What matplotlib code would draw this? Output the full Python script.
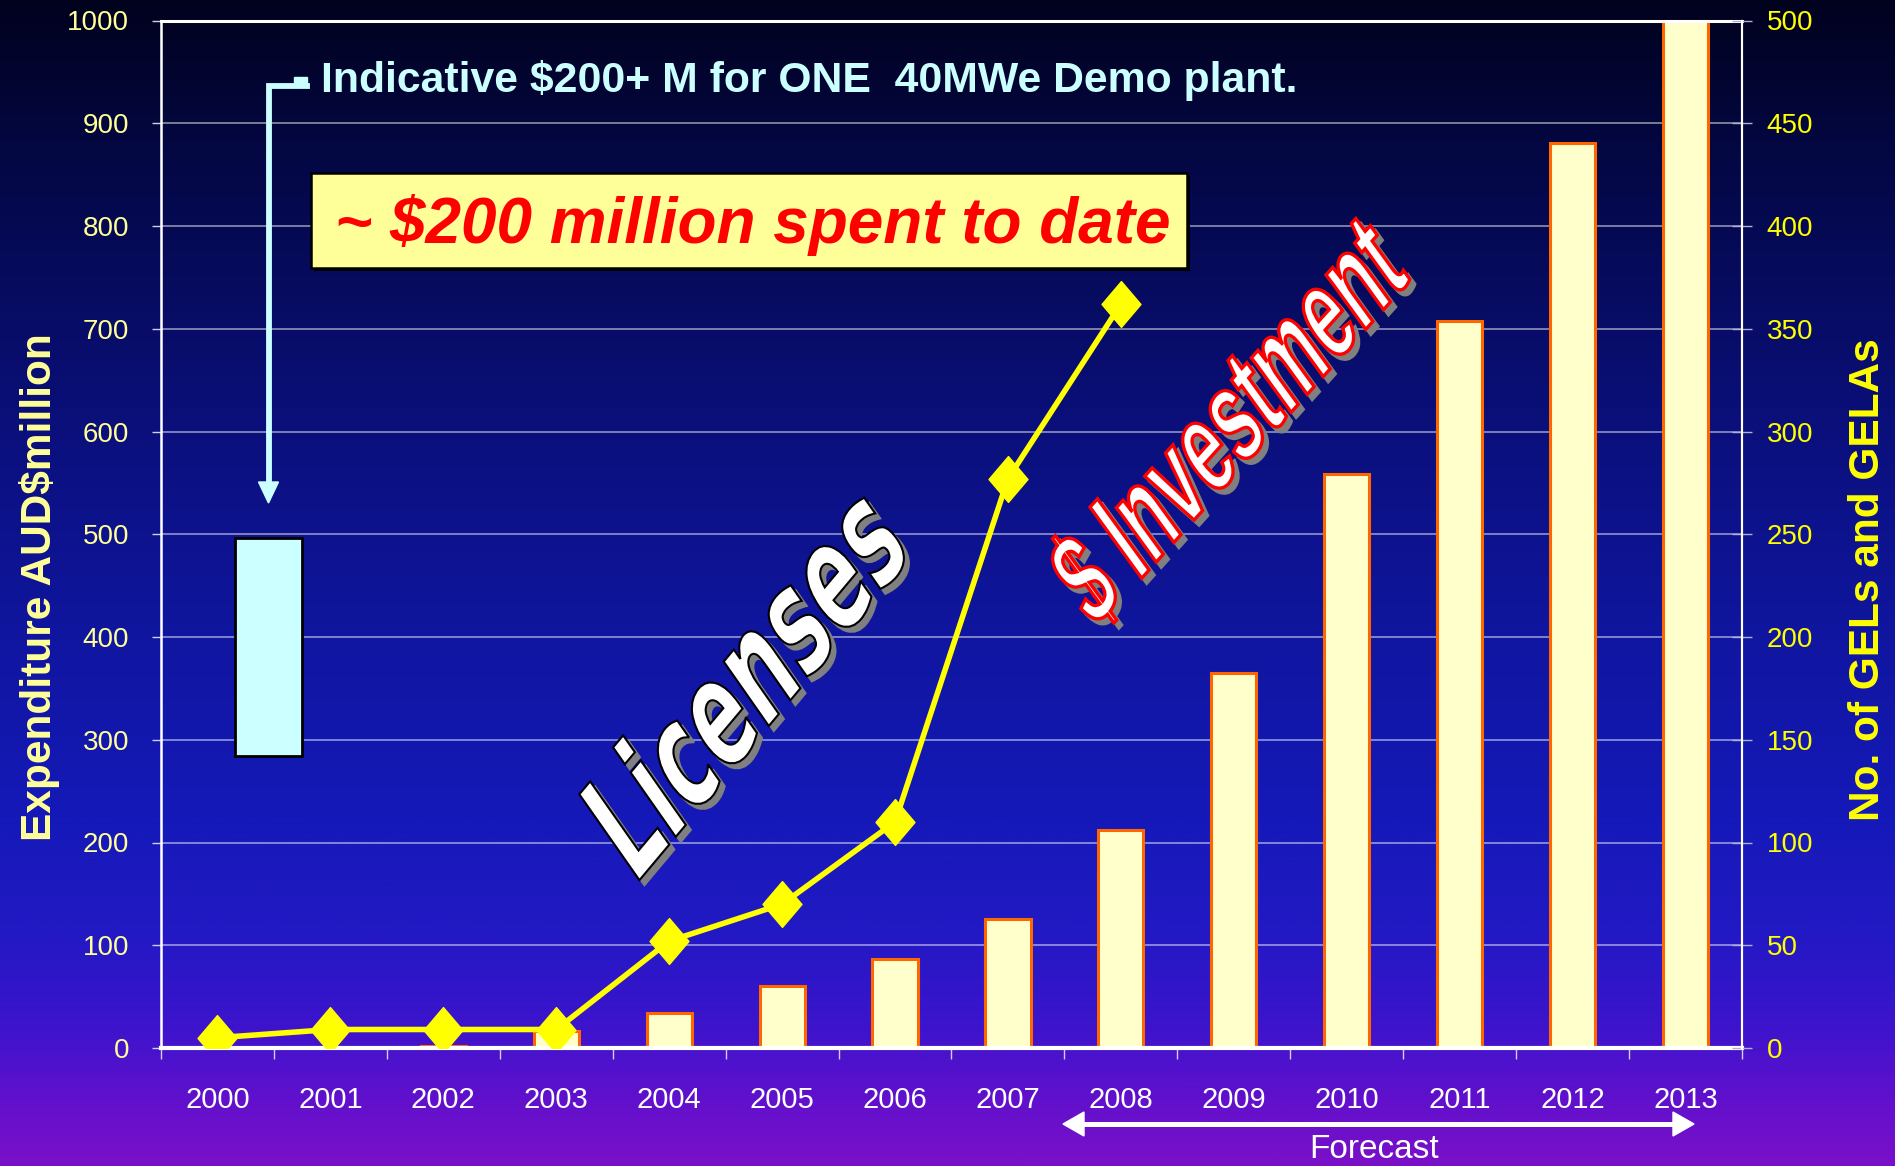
import numpy as np
import matplotlib
matplotlib.use('Agg')
import matplotlib.pyplot as plt
import matplotlib.transforms as mtransforms
from matplotlib.patches import Rectangle, Polygon, PathPatch
from matplotlib.lines import Line2D
from matplotlib.textpath import TextPath
from matplotlib.font_manager import FontProperties
from matplotlib.path import Path

plt.rcParams['font.family'] = ['Liberation Sans', 'DejaVu Sans']

# data
years = ['2000', '2001', '2002', '2003', '2004', '2005', '2006',
         '2007', '2008', '2009', '2010', '2011', '2012', '2013']
spend = [0, 0, 2, 17, 34, 60, 87, 126, 212, 365, 559, 708, 881, 1000]  # AUD$million, left axis
gels = [5, 9, 9, 9, 52, 70, 110, 277, 362]  # No. of GELs and GELAs, 2000-2008, right axis
demo_low = 284   # indicative demo plant bar
demo_high = 496

W, H = 1895, 1166
fig = plt.figure(figsize=(W / 100, H / 100), dpi=100)

# background gradient, dark navy -> blue -> purple
stops = [0.0, 0.15, 0.35, 0.55, 0.70, 0.80, 0.88, 0.95, 1.0]
cols = ['#01021e', '#040848', '#0a0f78', '#1016a0', '#1519b8',
        '#2219c4', '#3c14cc', '#6410cc', '#7a10c8']
rgb = np.array([matplotlib.colors.to_rgb(c) for c in cols])
t = np.linspace(0, 1, 400)
grad = np.stack([np.interp(t, stops, rgb[:, k]) for k in range(3)], axis=-1)[:, None, :]
bg = fig.add_axes([0, 0, 1, 1], zorder=-10)
bg.imshow(grad, aspect='auto', extent=[0, 1, 0, 1])
bg.axis('off')

x0, x1, yb, yt = 161, 1742, 1048, 20.5
ax = fig.add_axes([x0 / W, (H - yb) / H, (x1 - x0) / W, (yb - yt) / H])
ax.set_facecolor('none')
ax2 = ax.twinx()
ax2.set_facecolor('none')

x = np.arange(len(years))
ax.bar(x, spend, width=0.4, color='#ffffcc', edgecolor='#ff6600', linewidth=2.2, zorder=2)
ax.bar(0.45, demo_high - demo_low, bottom=demo_low, width=0.59,
       color='#ccffff', edgecolor='black', linewidth=2, zorder=2)

diamond = Path([(0, 1), (0.85, 0), (0, -1), (-0.85, 0), (0, 1)],
               [Path.MOVETO, Path.LINETO, Path.LINETO, Path.LINETO, Path.CLOSEPOLY])
ax2.plot(x[:len(gels)], gels, color='#ffff00', lw=4, marker=diamond, ms=33,
         mfc='#ffff00', mec='#ffff00', zorder=3)

ax.set_xlim(-0.5, len(years) - 0.5)
ax.set_ylim(0, 1000)
ax2.set_ylim(0, 500)
ax.set_yticks(range(0, 1001, 100))
ax2.set_yticks(range(0, 501, 50))
ax.set_xticks(x)
ax.set_xticklabels(years)
ax.set_xticks(np.arange(-0.5, len(years), 1), minor=True)

ax.grid(axis='y', color='white', alpha=0.55, lw=1.2)
ax.set_axisbelow(True)

ax.tick_params(axis='x', which='major', length=0, pad=27, labelsize=21, labelcolor='white')
ax.tick_params(axis='x', which='minor', length=8, width=1, color='#d0d0e8', direction='out')
ax.tick_params(axis='y', length=6.5, width=1, color='#d0d0e8', direction='out',
               pad=16.5, labelsize=20, labelcolor='#ffff99')
ax2.tick_params(axis='y', length=13.7, width=1, color='#b0b0d0', direction='inout',
                pad=11, labelsize=20, labelcolor='#ffff00')

for s in ax.spines.values():
    s.set_color('white')
ax.spines['top'].set_linewidth(2.2)
ax.spines['left'].set_linewidth(1.8)
ax.spines['bottom'].set_linewidth(3)
ax.spines['right'].set_linewidth(1.5)
for s in ax2.spines.values():
    s.set_visible(False)
ax2.spines['right'].set_visible(True)
ax2.spines['right'].set_color('white')
ax2.spines['right'].set_linewidth(1.5)

# axis titles
fig.text(40 / W, 1 - 587 / H, 'Expenditure AUD$million', rotation=90, ha='center', va='center',
         fontsize=30.5, fontweight='bold', color='#ffff99')
fig.text(1868 / W, 1 - 580 / H, 'No. of GELs and GELAs', rotation=90, ha='center', va='center',
         fontsize=30.5, fontweight='bold', color='#ffff00')

to_fig = mtransforms.Affine2D().scale(1 / W, 1 / H) + fig.transFigure


def P(px, py):  # picture pixel (from top-left) -> display-style coords
    return (px, H - py)


# demo plant note with bracket and arrow
fig.text(321 / W, 1 - 92 / H, 'Indicative $200+ M for ONE  40MWe Demo plant.',
         ha='left', va='baseline', fontsize=30.8, fontweight='bold', color='#ccffff')
pts = [P(307, 85.5), P(268.5, 85.5), P(268.5, 485)]
fig.add_artist(Line2D([p[0] for p in pts], [p[1] for p in pts], color='#ccffff', lw=4.2,
                      solid_joinstyle='miter', transform=to_fig))
fig.add_artist(Rectangle(P(294, 83), 13, 6, color='#ccffff', transform=to_fig))
fig.add_artist(Polygon([P(258.5, 482), P(278.5, 482), P(268.5, 503)], closed=True,
                       color='#ccffff', transform=to_fig))

# "spent to date" box
fig.add_artist(Rectangle(P(314, 271), 876, 95, facecolor='black', edgecolor='none', transform=to_fig))
fig.add_artist(Rectangle(P(311, 268), 876, 95, facecolor='#ffff99', edgecolor='black',
                         lw=1.8, transform=to_fig))
fig.text(753 / W, 1 - 243 / H, '~ $200 million spent to date', ha='center', va='baseline',
         fontsize=46, fontweight='bold', fontstyle='italic', color='#ff0000')


def word_art(text, family, center, length, cap, slant, angle, edge, edge_w):
    fp = FontProperties(family=family, weight='bold')
    tp = TextPath((0, 0), text, size=100, prop=fp)
    ext = tp.get_extents()
    sx = length / ext.width
    sy = cap / 72.0
    cx, cy = P(*center)
    tr = (mtransforms.Affine2D()
          .translate(-(ext.x0 + ext.x1) / 2, -(ext.y0 + ext.y1) / 2)
          .scale(sx, sy).skew_deg(slant, 0).rotate_deg(angle)
          .translate(cx, cy))
    path = tr.transform_path(tp)
    fig.add_artist(PathPatch(path, facecolor='#808080', edgecolor='#808080', lw=edge_w,
                             transform=mtransforms.Affine2D().translate(5, -5) + to_fig))
    fig.add_artist(PathPatch(path, facecolor='white', edgecolor=edge, lw=edge_w, transform=to_fig))


word_art('Licenses', 'DejaVu Sans', (744, 675), 421, 100, 15, 50, 'black', 1.5)
word_art('$ Investment', 'Liberation Sans', (1228, 420), 470, 90, 12, 48, '#ff0000', 2.4)

# forecast arrow
fig.add_artist(Line2D([1080, 1677], [H - 1124, H - 1124], color='white', lw=3.6, transform=to_fig))
fig.add_artist(Polygon([P(1063, 1124), P(1084, 1112), P(1084, 1136)], closed=True,
                       color='white', transform=to_fig))
fig.add_artist(Polygon([P(1694, 1124), P(1673, 1112), P(1673, 1136)], closed=True,
                       color='white', transform=to_fig))
fig.text(1374 / W, 8 / H, 'Forecast', ha='center', va='baseline', fontsize=24, color='white')

fig.savefig('out.png', dpi=100)
